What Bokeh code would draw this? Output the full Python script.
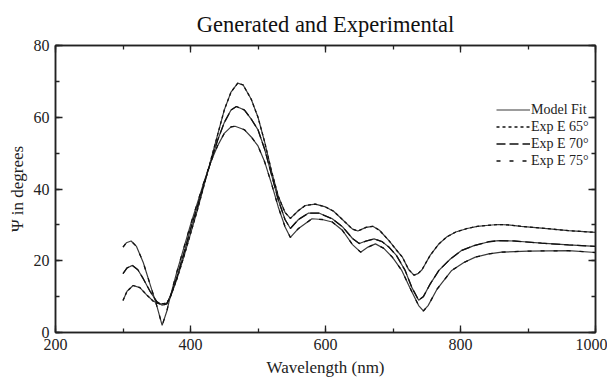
from bokeh.plotting import figure
from bokeh.models import Range1d, LinearAxis, SingleIntervalTicker, Legend, LegendItem, CustomJSTickFormatter
from bokeh.embed import file_html
from bokeh.resources import INLINE

# --- data ---
wl_65 = [300, 306, 315, 325, 335, 345, 355, 365, 370, 380, 390, 400, 410, 420, 430, 440, 450, 460, 470, 478,
         490, 500, 510, 520, 530, 540, 548, 560, 570, 585, 600, 612, 625, 640, 648, 660, 670, 680, 694, 705,
         714, 723, 731, 737, 743, 755, 768, 780, 793, 810, 825, 842, 856, 870, 890, 920, 960, 1000]
psi_65 = [8.9, 11.5, 13.1, 12.5, 10.5, 8.7, 7.9, 8.2, 9.8, 15, 21, 27.5, 34, 41, 48, 55, 62, 67, 69.5, 69,
          65, 60, 53, 45, 38, 33.5, 31.8, 34, 35.4, 35.8, 35, 33.8, 31.5, 28.8, 28.3, 29.3, 29.6, 28.5, 25.6, 23,
          21, 17.6, 16, 16.4, 17.5, 21.5, 24.7, 26.7, 28, 29, 29.6, 29.9, 30.1, 30, 29.6, 29.1, 28.4, 27.9]

wl_70 = [300, 306, 314, 322, 330, 340, 350, 358, 365, 372, 380, 390, 400, 410, 420, 430, 440, 450, 460, 468,
         480, 490, 500, 510, 520, 530, 540, 548, 560, 575, 590, 610, 625, 640, 650, 660, 672, 684, 694, 705,
         718, 728, 738, 745, 755, 768, 785, 802, 820, 842, 856, 880, 920, 960, 1000]
psi_70 = [16.4, 18, 18.7, 17.5, 15, 11.5, 8.6, 7.6, 8, 11, 15.5, 22, 28.8, 35, 41.5, 47.5, 53.5, 58.5, 62, 63,
          62, 59.5, 56.5, 51, 44, 37, 31.5, 29, 31.5, 33.3, 33.3, 31.7, 29.5, 26.2, 24.8, 25.5, 26.1, 25.3, 23.8, 21.5,
          17.3, 12.5, 9, 10, 13.5, 17.3, 20.5, 22.9, 24.2, 25.3, 25.6, 25.5, 24.9, 24.4, 24.0]

wl_75 = [300, 305, 312, 320, 330, 340, 350, 358, 365, 370, 380, 390, 400, 410, 420, 430, 440, 450, 460, 466,
         480, 490, 500, 510, 520, 530, 540, 548, 560, 580, 595, 610, 625, 640, 652, 663, 674, 686, 699, 713,
         725, 738, 745, 752, 765, 787, 805, 822, 842, 861, 900, 960, 1000]
psi_75 = [23.8, 25, 25.5, 24, 19.5, 13.5, 7.5, 2, 6, 10, 17, 23.5, 30, 36, 42, 47.5, 52, 55.5, 57.3, 57.5,
          56.5, 54.5, 52, 47.5, 41.5, 35, 29.5, 26.5, 29, 31.7, 31.5, 30.8, 28.5, 24.5, 22.4, 23.8, 24.7, 23.5, 21, 17.3,
          12.5, 7.5, 6, 7.5, 12, 17.3, 19.5, 21, 21.9, 22.4, 22.7, 22.8, 22.3]

series_labels = ["Model Fit", "Exp E 65\u00b0", "Exp E 70\u00b0", "Exp E 75\u00b0"]
title_text = "Generated and Experimental"
x_label = "Wavelength (nm)"
y_label = "\u03a8 in degrees"

SERIF = "Liberation Serif"
LINE = "#3a3a3a"

p = figure(frame_width=540, frame_height=287, output_backend="svg", toolbar_location=None,
           x_range=Range1d(200, 1000), y_range=Range1d(0, 80),
           min_border_left=55, min_border_right=12, min_border_top=45, min_border_bottom=44)
p.title.text = title_text
p.title.text_font = SERIF
p.title.text_font_size = "22.5px"
p.title.text_font_style = "normal"
p.title.align = "center"
p.title.text_color = "#111111"
p.title.standoff = 18

p.grid.visible = False
p.outline_line_color = "#222222"
p.outline_line_width = 1.5
p.background_fill_color = "white"
p.border_fill_color = "white"

def style_axis(ax, labels=True):
    ax.major_tick_in = 7
    ax.major_tick_out = 0
    ax.minor_tick_in = 4
    ax.minor_tick_out = 0
    ax.axis_line_color = "#222222"
    ax.axis_line_width = 1.5
    ax.major_tick_line_color = "#222222"
    ax.minor_tick_line_color = "#222222"
    ax.major_tick_line_width = 1.3
    ax.minor_tick_line_width = 1.3
    ax.major_label_text_font = SERIF
    ax.major_label_text_font_size = "16px"
    ax.major_label_text_color = "#222222"
    ax.axis_label_text_font = SERIF
    ax.axis_label_text_font_size = "17px"
    ax.axis_label_text_font_style = "normal"
    ax.axis_label_text_color = "#222222"
    if not labels:
        ax.formatter = CustomJSTickFormatter(code="return ''")
        ax.major_label_standoff = 0

p.xaxis.ticker = SingleIntervalTicker(interval=200, num_minor_ticks=2)
p.yaxis.ticker = SingleIntervalTicker(interval=20, num_minor_ticks=2)
style_axis(p.xaxis[0])
style_axis(p.yaxis[0])
p.xaxis.axis_label = x_label
p.yaxis.axis_label = y_label
p.xaxis.major_label_standoff = 6
p.yaxis.major_label_standoff = 6
p.xaxis.axis_label_standoff = 5
p.yaxis.axis_label_standoff = 4

top_ax = LinearAxis(ticker=SingleIntervalTicker(interval=200, num_minor_ticks=2))
right_ax = LinearAxis(ticker=SingleIntervalTicker(interval=20, num_minor_ticks=2))
style_axis(top_ax, labels=False)
style_axis(right_ax, labels=False)
p.add_layout(top_ax, "above")
p.add_layout(right_ax, "right")

# model fits (solid)
m65 = p.line(wl_65, psi_65, line_color=LINE, line_width=1.2)
m70 = p.line(wl_70, psi_70, line_color=LINE, line_width=1.2)
m75 = p.line(wl_75, psi_75, line_color=LINE, line_width=1.2)
# experimental (dashed overlays)
e65 = p.line(wl_65, psi_65, line_color="#111111", line_width=1.3, line_dash="3 3")
e70 = p.line(wl_70, psi_70, line_color="#111111", line_width=1.3, line_dash="9 4")
e75 = p.line(wl_75, psi_75, line_color="#111111", line_width=1.3, line_dash="4 9")

legend = Legend(items=[
    LegendItem(label=series_labels[0], renderers=[m65]),
    LegendItem(label=series_labels[1], renderers=[e65]),
    LegendItem(label=series_labels[2], renderers=[e70]),
    LegendItem(label=series_labels[3], renderers=[e75]),
], location=(441, 163))
legend.border_line_color = None
legend.background_fill_alpha = 0
legend.padding = 0
legend.margin = 0
legend.spacing = 0
legend.glyph_width = 34
legend.glyph_height = 17
legend.label_height = 17
legend.label_standoff = 1
legend.label_text_font = SERIF
legend.label_text_font_size = "14px"
legend.label_text_color = "#222222"
p.add_layout(legend, "center")

open("out.html", "w").write(file_html(p, INLINE))
